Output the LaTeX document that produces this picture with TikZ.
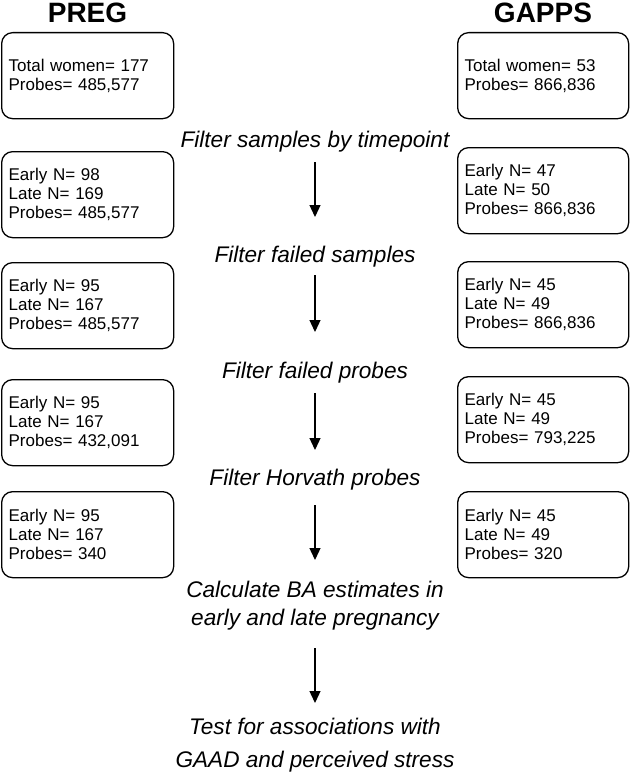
\documentclass[tikz,border=0pt]{standalone}
\usepackage{fontspec}
\setmainfont{Liberation Sans}
\usetikzlibrary{arrows.meta}
\begin{document}
\begin{tikzpicture}[x=1pt,y=-1pt,
  boxL/.style={draw, line width=1.3pt, rounded corners=11pt, anchor=north west,
    text width=158pt, inner xsep=7pt, inner ysep=0pt, minimum height=86pt, align=left,
    font=\fontsize{17}{19}\selectfont},
  boxR/.style={boxL, text width=157pt},
  title/.style={font=\fontsize{28}{30}\selectfont\bfseries, anchor=base, inner sep=0pt},
  stepname/.style={font=\fontsize{22.6}{26}\selectfont\itshape, anchor=base, inner sep=0pt},
  steptwo/.style={align=center, inner sep=0pt},
  arr/.style={line width=1.3pt, -{Triangle[length=12pt,width=11pt]}}
]
\useasboundingbox (0,0) rectangle (629,776);
% titles
\node[title] (pregT) at (87.5,23) {PREG};
\node[title] (gappsT) at (543,23) {GAPPS};
% left column
\node[boxL] (L1) at (1,32) {Total women= 177\\Probes= 485,577};
\node[boxL] (L2) at (1,151) {Early N= 98\\Late N= 169\\Probes= 485,577};
\node[boxL] (L3) at (1,262) {Early N= 95\\Late N= 167\\Probes= 485,577};
\node[boxL] (L4) at (1,379) {Early N= 95\\Late N= 167\\Probes= 432,091};
\node[boxL] (L5) at (1,491) {Early N= 95\\Late N= 167\\Probes= 340};
% right column
\node[boxR] (R1) at (457,32) {Total women= 53\\Probes= 866,836};
\node[boxR] (R2) at (457,147) {Early N= 47\\Late N= 50\\Probes= 866,836};
\node[boxR] (R3) at (457,261) {Early N= 45\\Late N= 49\\Probes= 866,836};
\node[boxR] (R4) at (457,376) {Early N= 45\\Late N= 49\\Probes= 793,225};
\node[boxR] (R5) at (457,491) {Early N= 45\\Late N= 49\\Probes= 320};
% steps
\node[stepname] (s1) at (315,147) {Filter samples by timepoint};
\node[stepname] (s2) at (315,262) {Filter failed samples};
\node[stepname] (s3) at (315,378) {Filter failed probes};
\node[stepname] (s4) at (315,485) {Filter Horvath probes};
\node[steptwo, font=\fontsize{22.6}{28}\selectfont\itshape] (s5) at (315,606) {Calculate BA estimates in\\early and late pregnancy};
\node[steptwo, font=\fontsize{22.6}{33}\selectfont\itshape] (s6) at (315,745.5) {Test for associations with\\GAAD and perceived stress};
% arrows
\coordinate (a1s) at (315,162); \coordinate (a1e) at (315,217);
\coordinate (a2s) at (315,275); \coordinate (a2e) at (315,332);
\coordinate (a3s) at (315,393); \coordinate (a3e) at (315,450);
\coordinate (a4s) at (315,505); \coordinate (a4e) at (315,560);
\coordinate (a5s) at (315,648); \coordinate (a5e) at (315,703);
\draw[arr] (a1s) -- (a1e);
\draw[arr] (a2s) -- (a2e);
\draw[arr] (a3s) -- (a3e);
\draw[arr] (a4s) -- (a4e);
\draw[arr] (a5s) -- (a5e);
\end{tikzpicture}
\end{document}
